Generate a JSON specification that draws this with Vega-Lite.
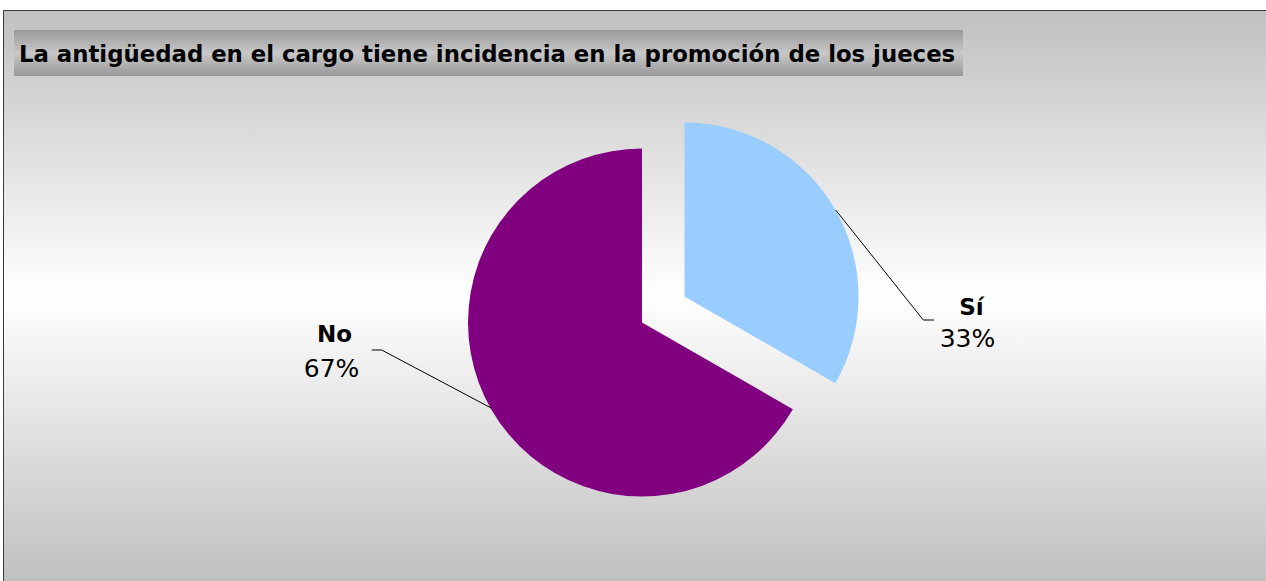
{
  "$schema": "https://vega.github.io/schema/vega-lite/v6.json",
  "width": 1266,
  "height": 581,
  "autosize": {"type": "fit", "contains": "padding"},
  "padding": 0,
  "background": "#ffffff",
  "config": {"view": {"stroke": null}},
  "data": {"values": [
    {"answer": "Sí", "share": 0.333},
    {"answer": "No", "share": 0.667}
  ]},
  "resolve": {"scale": {"theta": "independent"}},
  "layer": [
    {
      "data": {"values": [{}]},
      "mark": {"type": "rect",
        "fill": {"gradient": "linear", "x1": 0, "y1": 0, "x2": 0, "y2": 1,
          "stops": [{"offset": 0, "color": "#c0c0c0"}, {"offset": 0.5, "color": "#ffffff"}, {"offset": 1, "color": "#c0c0c0"}]}},
      "encoding": {"x": {"value": 3}, "x2": {"value": 1266}, "y": {"value": 10}, "y2": {"value": 581}}
    },
    {
      "data": {"values": [{}]},
      "mark": {"type": "rule", "color": "#3a3a3a", "strokeWidth": 1},
      "encoding": {"x": {"value": 3.5}, "y": {"value": 10.5}, "x2": {"value": 1266}, "y2": {"value": 10.5}}
    },
    {
      "data": {"values": [{}]},
      "mark": {"type": "rule", "color": "#3a3a3a", "strokeWidth": 1},
      "encoding": {"x": {"value": 3.5}, "y": {"value": 10.5}, "x2": {"value": 3.5}, "y2": {"value": 581}}
    },
    {
      "data": {"values": [{}]},
      "mark": {"type": "rect",
        "fill": {"gradient": "linear", "x1": 0, "y1": 0, "x2": 0, "y2": 1,
          "stops": [{"offset": 0, "color": "#999999"}, {"offset": 0.5, "color": "#c8c8c8"}, {"offset": 1, "color": "#999999"}]}},
      "encoding": {"x": {"value": 14}, "x2": {"value": 963}, "y": {"value": 30}, "y2": {"value": 76}}
    },
    {
      "data": {"values": [{}]},
      "mark": {"type": "text", "text": "La antigüedad en el cargo tiene incidencia en la promoción de los jueces",
        "font": "DejaVu Sans", "fontWeight": "bold", "fontSize": 22.8, "align": "left", "baseline": "alphabetic", "color": "#000000"},
      "encoding": {"x": {"value": 19}, "y": {"value": 62}}
    },
    {
      "mark": {"type": "arc", "outerRadius": 174, "xOffset": 9.5, "yOffset": 32.5},
      "encoding": {
        "theta": {"field": "share", "type": "quantitative", "stack": true},
        "order": {"field": "share", "sort": "ascending"},
        "color": {"field": "answer", "type": "nominal", "scale": {"domain": ["Sí", "No"], "range": ["#99CCFF", "#800080"]}, "legend": null},
        "opacity": {"condition": {"test": "datum.answer === 'No'", "value": 1}, "value": 0}
      }
    },
    {
      "mark": {"type": "arc", "outerRadius": 174, "xOffset": 52, "yOffset": 6.5},
      "encoding": {
        "theta": {"field": "share", "type": "quantitative", "stack": true},
        "order": {"field": "share", "sort": "ascending"},
        "color": {"field": "answer", "type": "nominal", "scale": {"domain": ["Sí", "No"], "range": ["#99CCFF", "#800080"]}, "legend": null},
        "opacity": {"condition": {"test": "datum.answer === 'Sí'", "value": 1}, "value": 0}
      }
    },
    {
      "data": {"values": [{}]},
      "mark": {"type": "rule", "color": "#000000", "strokeWidth": 1},
      "encoding": {"x": {"value": 371.7}, "y": {"value": 350}, "x2": {"value": 381.7}, "y2": {"value": 350}}
    },
    {
      "data": {"values": [{}]},
      "mark": {"type": "rule", "color": "#000000", "strokeWidth": 1},
      "encoding": {"x": {"value": 381.7}, "y": {"value": 350}, "x2": {"value": 491.7}, "y2": {"value": 408.3}}
    },
    {
      "data": {"values": [{}]},
      "mark": {"type": "rule", "color": "#000000", "strokeWidth": 1},
      "encoding": {"x": {"value": 835.7}, "y": {"value": 210}, "x2": {"value": 923.3}, "y2": {"value": 320}}
    },
    {
      "data": {"values": [{}]},
      "mark": {"type": "rule", "color": "#000000", "strokeWidth": 1},
      "encoding": {"x": {"value": 923.3}, "y": {"value": 320}, "x2": {"value": 934}, "y2": {"value": 320}}
    },
    {
      "mark": {"type": "text", "radius": 318.8, "xOffset": 20.5, "yOffset": 38.2, "font": "DejaVu Sans", "fontWeight": "bold",
        "fontSize": 23, "align": "center", "baseline": "alphabetic", "color": "#000000"},
      "encoding": {
        "theta": {"field": "share", "type": "quantitative", "stack": true, "scale": {"range": [0.4828, 6.766]}},
        "order": {"field": "share", "sort": "ascending"},
        "text": {"field": "answer", "type": "nominal"}
      }
    },
    {
      "mark": {"type": "text", "radius": 318.3, "xOffset": 17, "yOffset": 72, "font": "DejaVu Sans", "fontWeight": "normal",
        "fontSize": 25, "align": "center", "baseline": "alphabetic", "color": "#000000"},
      "encoding": {
        "theta": {"field": "share", "type": "quantitative", "stack": true, "scale": {"range": [0.479, 6.7622]}},
        "order": {"field": "share", "sort": "ascending"},
        "text": {"field": "share", "type": "quantitative", "format": ".0%"}
      }
    }
  ]
}
